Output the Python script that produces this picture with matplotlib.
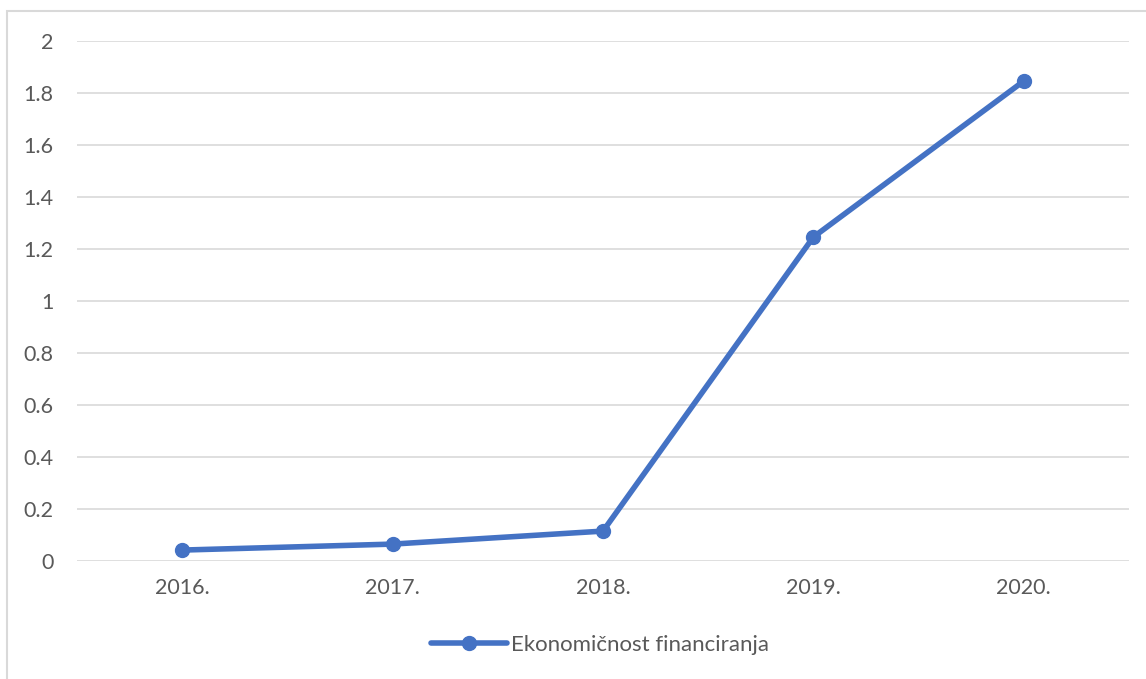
import matplotlib.pyplot as plt
import matplotlib.patches as mpatches
from matplotlib.lines import Line2D

years = ["2016.", "2017.", "2018.", "2019.", "2020."]
values = [0.042, 0.065, 0.115, 1.246, 1.846]
y_ticks = [0, 0.2, 0.4, 0.6, 0.8, 1, 1.2, 1.4, 1.6, 1.8, 2]
y_labels = ["0", "0.2", "0.4", "0.6", "0.8", "1", "1.2", "1.4", "1.6", "1.8", "2"]
series_name = "Ekonomičnost financiranja"

BLUE = "#4472C4"
GRID = "#d9d9d9"
TXT = "#595959"

plt.rcParams["font.family"] = ["Lato", "DejaVu Sans"]

fig = plt.figure(figsize=(11.46, 6.79), dpi=100)
ax = fig.add_axes([77 / 1146, 1 - 561 / 679, (1129 - 77) / 1146, (561 - 41) / 679])

# chart-area border (right and bottom edges fall outside the image)
fig.patches.append(mpatches.Rectangle((7 / 1146, -0.1), 1.2, 1 - 11 / 679 + 0.1,
                                      transform=fig.transFigure, fill=False,
                                      edgecolor=GRID, linewidth=1.5))

x = list(range(len(years)))
ax.plot(x, values, color=BLUE, linewidth=4, marker="o", markersize=10,
        solid_capstyle="round", zorder=3)

ax.set_xlim(-0.5, len(years) - 0.5)
ax.set_ylim(0, 2)
ax.set_yticks(y_ticks)
ax.set_yticklabels(y_labels)
ax.set_xticks(x)
ax.set_xticklabels(years)
ax.tick_params(length=0, labelsize=15.5, colors=TXT)
ax.tick_params(axis="y", pad=17)
ax.tick_params(axis="x", pad=12)

ax.grid(axis="y", color=GRID, linewidth=1.2)
ax.set_axisbelow(True)
for s in ax.spines.values():
    s.set_visible(False)

handle = Line2D([], [], color=BLUE, linewidth=4, marker="o", markersize=10,
                solid_capstyle="round")
fig.legend(handles=[handle], labels=[series_name], loc="center",
           bbox_to_anchor=(600 / 1146, 1 - 645 / 679), frameon=False,
           fontsize=16, handlelength=3.4, handletextpad=0.2,
           labelcolor=TXT)

plt.savefig("out.png", dpi=100)
